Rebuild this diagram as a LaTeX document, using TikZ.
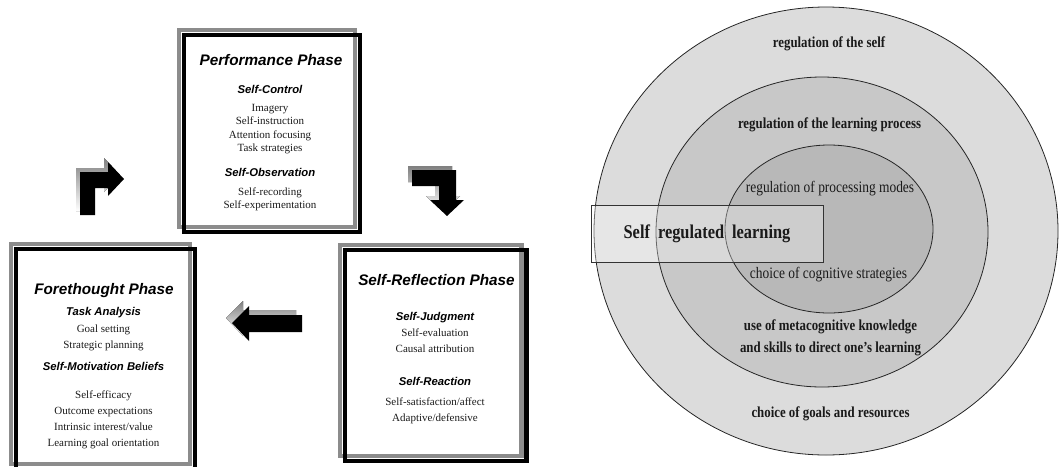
\documentclass[tikz,border=0pt]{standalone}
\usepackage{fontspec}
\setmainfont{Liberation Serif}
\setsansfont{Liberation Sans}
\newfontfamily\ringfont[FakeStretch=0.84]{Liberation Serif}
\usepackage{tikz}
\usetikzlibrary{positioning,calc,shapes.geometric,shadows}
\definecolor{ink}{HTML}{1A1A1A}
\definecolor{shade}{HTML}{8C8C8C}
\definecolor{ringout}{HTML}{DCDCDC}
\definecolor{ringmid}{HTML}{C8C8C8}
\definecolor{ringin}{HTML}{B8B8B8}
% block arrows, drawn from their own origin
\newcommand{\turnright}{(0,0) -- (0,-43) -- (28,-43) -- (28,-53) -- (44,-36) -- (28,-19) -- (28,-27) -- (15,-27) -- (15,0) -- cycle}
\newcommand{\turndown}{(0,0) -- (44,0) -- (44,30) -- (52,30) -- (35,46) -- (18,30) -- (27,30) -- (27,16) -- (0,16) -- cycle}
\newcommand{\goleft}{(0,0) -- (-53,0) -- (-53,-9) -- (-70,8) -- (-53,26) -- (-53,17) -- (0,17) -- cycle}

\begin{document}
\begin{tikzpicture}[x=1pt,y=-1pt]
    \tikzset{
      frame/.style={draw=black,line width=4.5pt,inner sep=0pt,outer sep=0pt,
        general shadow={draw=shade,line width=4.5pt,shadow xshift=-5pt,shadow yshift=5pt}},
      phase/.style={anchor=base,inner sep=0pt,font=\sffamily\bfseries\itshape\fontsize{15.3}{18}\selectfont},
      head/.style={anchor=base,inner sep=0pt,font=\sffamily\bfseries\itshape\fontsize{11.3}{13}\selectfont},
      item/.style={anchor=base,inner sep=0pt,text=ink,font=\fontsize{11}{13}\selectfont},
      ring/.style={ellipse,draw=black!85,line width=0.8pt,inner sep=0pt},
      ringtext/.style={anchor=base,inner sep=0pt,text=ink,font=\ringfont\bfseries\fontsize{15.3}{18}\selectfont},
      ringthin/.style={anchor=base,inner sep=0pt,text=ink,font=\ringfont\fontsize{16}{18}\selectfont},
      srlbox/.style={draw=black!80,line width=0.6pt,fill=white,fill opacity=0.3,text opacity=1,
        minimum width=232pt,minimum height=57pt,text=ink,font=\ringfont\bfseries\fontsize{19.5}{22}\selectfont}
    }
    \useasboundingbox (0,0) rectangle (1059,466);
    % rings on the right
    \node[ring,fill=ringout,minimum width=464pt,minimum height=448pt] (self) at (826,231) {};
    \node[ring,fill=ringmid,minimum width=332pt,minimum height=310pt] (learn) at (822,232) {};
    \node[ring,fill=ringin,minimum width=208pt,minimum height=168pt] (proc) at (829,229) {};
    \node[srlbox] (srl) at (707,233.5) {Self\hspace{8pt}regulated\hspace{8pt}learning};
    \node[ringtext] (rself) at (829,47) {regulation of the self};
    \node[ringtext] (rlearn) at (829.5,128) {regulation of the learning process};
    \node[ringthin] (rmodes) at (830,192) {regulation of processing modes};
    \node[ringthin] (rstrat) at (828.5,278) {choice of cognitive strategies};
    \node[ringtext] (rmeta) at (830.5,330) {use of metacognitive knowledge};
    \node[ringtext] (rskill) at (830.5,352) {and skills to direct one’s learning};
    \node[ringtext] (rgoal) at (830.5,417) {choice of goals and resources};
    % three phase boxes
    \node[frame,minimum width=176pt,minimum height=197pt] (perf) at (272,133.5) {};
    \node[frame,minimum width=179pt,minimum height=220pt] (fore) at (105.5,359) {};
    \node[frame,minimum width=181.5pt,minimum height=211pt] (refl) at (435.75,355.5) {};
    \node[phase] (perftitle) at (271,65.5) {Performance Phase};
    \node[head] (ctl) at (270,93.3) {Self-Control};
    \foreach \t [count=\i] in {Imagery,Self-instruction,Attention focusing,Task strategies}
      \node[item] (ctl\i) at (270,{97.5+13.5*\i}) {\t};
    \node[head] (obs) at (270,176.7) {Self-Observation};
    \foreach \t [count=\i] in {Self-recording,Self-experimentation}
      \node[item] (obs\i) at (270,{181.5+13.5*\i}) {\t};
    \node[phase] (foretitle) at (104,294) {Forethought Phase};
    \node[head] (task) at (103.5,315.7) {Task Analysis};
    \foreach \t [count=\i] in {Goal setting,Strategic planning}
      \node[item] (task\i) at (103.5,{316.8+16*\i}) {\t};
    \node[head] (motiv) at (103.5,370.7) {Self-Motivation Beliefs};
    \foreach \t [count=\i] in {Self-efficacy,Outcome expectations,Intrinsic interest/value,Learning goal orientation}
      \node[item] (motiv\i) at (103.5,{382+16.2*\i}) {\t};
    \node[phase] (refltitle) at (436.5,285.5) {Self-Reflection Phase};
    \node[head] (judg) at (435,320) {Self-Judgment};
    \foreach \t [count=\i] in {Self-evaluation,Causal attribution}
      \node[item] (judg\i) at (435,{320.7+15.7*\i}) {\t};
    \node[head] (react) at (435,385.7) {Self-Reaction};
    \foreach \t [count=\i] in {Self-satisfaction/affect,Adaptive/defensive}
      \node[item] (react\i) at (435,{390+15.6*\i}) {\t};
    % cycle arrows
    \coordinate (up) at (80,215);
    \coordinate (down) at (412,170);
    \coordinate (back) at (302,315);
    \fill[shade,shift={($(up)+(-4,-4)$)}] \turnright;
    \fill[black,shift={(up)}] \turnright;
    \fill[shade,shift={($(down)+(-4,-4)$)}] \turndown;
    \fill[black,shift={(down)}] \turndown;
    \fill[shade,shift={($(back)+(-6,-5)$)}] \goleft;
    \fill[black,shift={(back)}] \goleft;
  \end{tikzpicture}
\end{document}
